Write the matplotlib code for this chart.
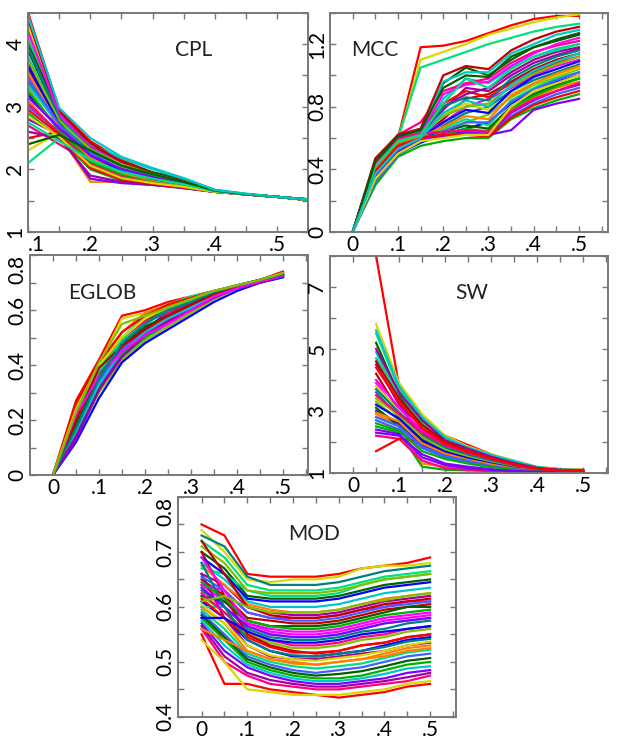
import matplotlib
matplotlib.use("Agg")
import matplotlib.pyplot as plt
import numpy as np

plt.rcParams['font.family'] = ['Lato', 'DejaVu Sans']

# x positions (threshold) for each panel
x_cpl = [0.10, 0.15, 0.20, 0.25, 0.30, 0.35, 0.40, 0.45, 0.50, 0.55]
x_full = [0.0, 0.05, 0.10, 0.15, 0.20, 0.25, 0.30, 0.35, 0.40, 0.45, 0.50]
x_sw = [0.05, 0.10, 0.15, 0.20, 0.25, 0.30, 0.35, 0.40, 0.45, 0.50]

cpl = [
    [4.5, 2.95, 2.45, 2.15, 1.95, 1.82, 1.66, 1.60, 1.56, 1.52],
    [4.3, 2.9, 2.4, 2.1, 1.92, 1.8, 1.66, 1.6, 1.56, 1.52],
    [4.1, 2.85, 2.35, 2.05, 1.88, 1.78, 1.65, 1.6, 1.56, 1.52],
    [3.9, 2.8, 2.3, 2.0, 1.85, 1.76, 1.65, 1.6, 1.56, 1.52],
    [3.8, 2.75, 2.28, 2.05, 1.9, 1.78, 1.65, 1.6, 1.56, 1.52],
    [3.7, 2.7, 2.25, 1.98, 1.84, 1.74, 1.65, 1.6, 1.56, 1.51],
    [3.6, 2.75, 2.2, 1.95, 1.82, 1.74, 1.65, 1.6, 1.56, 1.51],
    [3.5, 2.65, 2.15, 1.92, 1.8, 1.72, 1.65, 1.6, 1.56, 1.51],
    [3.4, 2.7, 2.3, 2.02, 1.88, 1.8, 1.66, 1.6, 1.56, 1.52],
    [3.3, 2.6, 2.1, 1.9, 1.78, 1.72, 1.64, 1.6, 1.56, 1.51],
    [3.2, 2.65, 2.2, 2.0, 1.86, 1.76, 1.65, 1.6, 1.56, 1.51],
    [3.1, 2.55, 1.8, 1.8, 1.76, 1.72, 1.64, 1.6, 1.56, 1.51],
    [3.0, 2.6, 2.05, 1.85, 1.77, 1.7, 1.64, 1.6, 1.56, 1.51],
    [2.9, 2.5, 2.0, 1.82, 1.76, 1.7, 1.64, 1.6, 1.56, 1.51],
    [2.8, 2.55, 1.85, 1.78, 1.75, 1.7, 1.64, 1.6, 1.56, 1.51],
    [2.7, 2.4, 2.1, 1.95, 1.84, 1.75, 1.65, 1.6, 1.56, 1.51],
    [2.5, 2.6, 2.2, 1.98, 1.85, 1.76, 1.65, 1.6, 1.56, 1.51],
    [2.3, 2.6, 2.25, 2.02, 1.9, 1.8, 1.66, 1.6, 1.56, 1.52],
    [2.1, 2.5, 2.15, 1.95, 1.86, 1.78, 1.65, 1.6, 1.56, 1.51],
    [4.0, 2.9, 2.38, 2.12, 1.95, 1.85, 1.67, 1.6, 1.56, 1.52],
    [3.35, 2.7, 2.4, 2.18, 2.0, 1.85, 1.67, 1.61, 1.56, 1.52],
    [2.6, 2.5, 1.9, 1.8, 1.75, 1.71, 1.64, 1.6, 1.56, 1.51],
    [4.4, 2.92, 2.42, 2.12, 1.93, 1.81, 1.66, 1.6, 1.56, 1.52],
    [4.2, 2.88, 2.36, 2.08, 1.9, 1.79, 1.66, 1.6, 1.56, 1.52],
    [3.95, 2.82, 2.33, 2.06, 1.89, 1.78, 1.65, 1.6, 1.56, 1.52],
    [3.75, 2.78, 2.32, 2.08, 1.92, 1.8, 1.66, 1.6, 1.56, 1.52],
    [3.65, 2.72, 2.22, 1.97, 1.83, 1.75, 1.65, 1.6, 1.56, 1.51],
    [3.55, 2.68, 2.18, 1.94, 1.81, 1.73, 1.65, 1.6, 1.56, 1.51],
    [3.45, 2.72, 2.26, 2.0, 1.86, 1.77, 1.65, 1.6, 1.56, 1.51],
    [3.25, 2.62, 2.12, 1.91, 1.79, 1.72, 1.64, 1.6, 1.56, 1.51],
    [3.15, 2.66, 2.22, 2.01, 1.87, 1.77, 1.65, 1.6, 1.56, 1.51],
    [3.05, 2.58, 2.08, 1.88, 1.78, 1.71, 1.64, 1.6, 1.56, 1.51],
    [2.95, 2.56, 2.02, 1.84, 1.77, 1.71, 1.64, 1.6, 1.56, 1.51],
    [2.85, 2.52, 2.06, 1.86, 1.78, 1.72, 1.64, 1.6, 1.56, 1.51],
    [2.75, 2.45, 2.15, 1.96, 1.85, 1.76, 1.65, 1.6, 1.56, 1.51],
    [2.4, 2.55, 2.3, 2.06, 1.92, 1.8, 1.66, 1.6, 1.56, 1.52],
    [4.45, 2.98, 2.5, 2.2, 2.02, 1.86, 1.67, 1.61, 1.56, 1.52],
]

mcc = [
    [0, 0.45, 0.6, 1.18, 1.19, 1.22, 1.27, 1.32, 1.36, 1.38, 1.38],
    [0, 0.42, 0.58, 1.1, 1.15, 1.2, 1.26, 1.3, 1.34, 1.37, 1.39],
    [0, 0.4, 0.6, 1.05, 1.1, 1.15, 1.2, 1.24, 1.28, 1.31, 1.33],
    [0, 0.44, 0.62, 0.65, 0.95, 1.05, 1.0, 1.1, 1.18, 1.22, 1.26],
    [0, 0.38, 0.55, 0.62, 0.85, 0.98, 0.95, 1.05, 1.12, 1.17, 1.2],
    [0, 0.4, 0.57, 0.63, 0.78, 0.92, 0.9, 1.0, 1.08, 1.13, 1.17],
    [0, 0.36, 0.52, 0.6, 0.72, 0.85, 0.88, 0.96, 1.04, 1.1, 1.14],
    [0, 0.42, 0.56, 0.62, 0.7, 0.8, 0.85, 0.92, 1.0, 1.06, 1.1],
    [0, 0.35, 0.5, 0.58, 0.68, 0.76, 0.8, 0.9, 0.97, 1.02, 1.07],
    [0, 0.39, 0.54, 0.6, 0.65, 0.7, 0.75, 0.86, 0.94, 0.99, 1.04],
    [0, 0.33, 0.5, 0.57, 0.62, 0.66, 0.7, 0.82, 0.9, 0.96, 1.0],
    [0, 0.37, 0.53, 0.6, 0.63, 0.64, 0.65, 0.78, 0.86, 0.92, 0.96],
    [0, 0.41, 0.56, 0.6, 0.61, 0.63, 0.62, 0.74, 0.82, 0.88, 0.92],
    [0, 0.3, 0.48, 0.55, 0.58, 0.6, 0.6, 0.72, 0.79, 0.84, 0.88],
    [0, 0.46, 0.6, 0.62, 0.63, 0.64, 0.62, 0.65, 0.78, 0.82, 0.85],
    [0, 0.43, 0.62, 0.7, 0.9, 0.95, 0.98, 1.08, 1.15, 1.19, 1.22],
    [0, 0.38, 0.55, 0.64, 0.82, 0.9, 0.86, 0.95, 1.02, 1.08, 1.12],
    [0, 0.34, 0.52, 0.61, 0.75, 0.82, 0.78, 0.88, 0.95, 1.0, 1.05],
    [0, 0.4, 0.58, 0.62, 0.66, 0.72, 0.68, 0.84, 0.92, 0.98, 1.02],
    [0, 0.36, 0.51, 0.59, 0.64, 0.68, 0.66, 0.8, 0.88, 0.94, 0.98],
    [0, 0.44, 0.6, 0.64, 0.96, 1.02, 1.02, 1.14, 1.2, 1.26, 1.29],
    [0, 0.39, 0.56, 0.62, 0.8, 0.88, 0.92, 1.02, 1.1, 1.15, 1.18],
    [0, 0.47, 0.62, 0.66, 1.0, 1.06, 1.04, 1.16, 1.23, 1.28, 1.31],
    [0, 0.41, 0.59, 0.63, 0.88, 0.94, 0.96, 1.06, 1.14, 1.2, 1.24],
    [0, 0.37, 0.54, 0.61, 0.8, 0.86, 0.84, 0.98, 1.06, 1.12, 1.16],
    [0, 0.43, 0.57, 0.62, 0.74, 0.8, 0.82, 0.93, 1.01, 1.07, 1.12],
    [0, 0.35, 0.52, 0.6, 0.7, 0.78, 0.76, 0.9, 0.99, 1.04, 1.09],
    [0, 0.4, 0.55, 0.61, 0.67, 0.74, 0.72, 0.87, 0.95, 1.01, 1.06],
    [0, 0.32, 0.49, 0.58, 0.64, 0.7, 0.7, 0.83, 0.91, 0.97, 1.02],
    [0, 0.38, 0.53, 0.6, 0.62, 0.66, 0.64, 0.79, 0.87, 0.93, 0.98],
    [0, 0.36, 0.52, 0.59, 0.61, 0.63, 0.63, 0.76, 0.84, 0.9, 0.94],
    [0, 0.44, 0.6, 0.63, 0.64, 0.65, 0.64, 0.77, 0.85, 0.9, 0.95],
    [0, 0.39, 0.55, 0.6, 0.62, 0.62, 0.61, 0.73, 0.81, 0.86, 0.9],
    [0, 0.34, 0.5, 0.58, 0.6, 0.62, 0.62, 0.8, 0.9, 0.95, 1.0],
    [0, 0.42, 0.58, 0.62, 0.82, 0.98, 0.92, 1.04, 1.12, 1.16, 1.2],
    [0, 0.45, 0.61, 0.65, 0.92, 1.0, 0.99, 1.12, 1.18, 1.23, 1.27],
    [0, 0.37, 0.53, 0.6, 0.76, 0.84, 0.8, 0.94, 1.03, 1.09, 1.14],
]

eglob = [
    [0, 0.27, 0.42, 0.58, 0.6, 0.63, 0.65, 0.67, 0.69, 0.71, 0.74],
    [0, 0.25, 0.4, 0.57, 0.59, 0.62, 0.65, 0.67, 0.69, 0.71, 0.74],
    [0, 0.23, 0.39, 0.5, 0.58, 0.62, 0.65, 0.67, 0.69, 0.71, 0.735],
    [0, 0.22, 0.38, 0.48, 0.56, 0.61, 0.64, 0.67, 0.69, 0.71, 0.735],
    [0, 0.2, 0.37, 0.47, 0.55, 0.6, 0.64, 0.67, 0.69, 0.71, 0.73],
    [0, 0.19, 0.36, 0.46, 0.53, 0.59, 0.63, 0.66, 0.69, 0.71, 0.73],
    [0, 0.18, 0.35, 0.45, 0.52, 0.57, 0.62, 0.66, 0.69, 0.71, 0.73],
    [0, 0.17, 0.33, 0.44, 0.51, 0.56, 0.61, 0.66, 0.69, 0.71, 0.73],
    [0, 0.15, 0.32, 0.43, 0.5, 0.55, 0.6, 0.65, 0.68, 0.705, 0.725],
    [0, 0.14, 0.3, 0.42, 0.49, 0.54, 0.59, 0.64, 0.68, 0.7, 0.72],
    [0, 0.12, 0.28, 0.41, 0.48, 0.53, 0.58, 0.63, 0.67, 0.7, 0.72],
    [0, 0.21, 0.4, 0.52, 0.59, 0.62, 0.64, 0.67, 0.69, 0.71, 0.735],
    [0, 0.16, 0.34, 0.46, 0.54, 0.58, 0.63, 0.66, 0.69, 0.71, 0.73],
    [0, 0.24, 0.37, 0.44, 0.5, 0.56, 0.6, 0.65, 0.68, 0.705, 0.725],
    [0, 0.13, 0.31, 0.45, 0.52, 0.6, 0.63, 0.665, 0.69, 0.71, 0.73],
    [0, 0.19, 0.38, 0.49, 0.56, 0.59, 0.62, 0.66, 0.685, 0.71, 0.73],
    [0, 0.26, 0.41, 0.52, 0.58, 0.62, 0.645, 0.67, 0.69, 0.71, 0.74],
    [0, 0.24, 0.4, 0.5, 0.57, 0.61, 0.64, 0.67, 0.69, 0.71, 0.735],
    [0, 0.21, 0.38, 0.49, 0.55, 0.6, 0.635, 0.665, 0.69, 0.71, 0.73],
    [0, 0.18, 0.36, 0.47, 0.54, 0.58, 0.62, 0.66, 0.685, 0.71, 0.73],
    [0, 0.16, 0.33, 0.45, 0.52, 0.57, 0.61, 0.65, 0.68, 0.705, 0.725],
    [0, 0.14, 0.31, 0.43, 0.51, 0.56, 0.6, 0.645, 0.68, 0.7, 0.725],
    [0, 0.2, 0.39, 0.47, 0.53, 0.58, 0.62, 0.66, 0.685, 0.71, 0.73],
    [0, 0.22, 0.36, 0.45, 0.51, 0.55, 0.6, 0.65, 0.68, 0.705, 0.725],
    [0, 0.17, 0.35, 0.48, 0.55, 0.6, 0.63, 0.665, 0.69, 0.71, 0.73],
    [0, 0.23, 0.41, 0.55, 0.58, 0.61, 0.64, 0.67, 0.69, 0.71, 0.735],
]

sw = [
    [8.0, 3.8, 2.7, 2.2, 1.9, 1.6, 1.35, 1.18, 1.12, 1.1],
    [5.8, 3.9, 2.9, 2.2, 1.85, 1.6, 1.4, 1.2, 1.12, 1.1],
    [5.5, 3.7, 2.8, 2.1, 1.8, 1.55, 1.35, 1.18, 1.1, 1.08],
    [5.2, 3.5, 2.6, 2.0, 1.75, 1.5, 1.3, 1.15, 1.1, 1.08],
    [4.9, 3.4, 2.5, 1.95, 1.7, 1.45, 1.28, 1.14, 1.09, 1.07],
    [4.5, 3.2, 2.4, 1.9, 1.65, 1.42, 1.25, 1.12, 1.08, 1.06],
    [4.2, 3.0, 2.3, 1.85, 1.6, 1.4, 1.22, 1.12, 1.08, 1.06],
    [3.9, 2.9, 2.2, 1.8, 1.55, 1.35, 1.2, 1.1, 1.07, 1.05],
    [3.6, 2.8, 2.1, 1.7, 1.5, 1.3, 1.18, 1.1, 1.07, 1.05],
    [3.3, 2.7, 2.0, 1.65, 1.45, 1.28, 1.15, 1.09, 1.06, 1.04],
    [3.0, 2.6, 1.9, 1.6, 1.4, 1.25, 1.13, 1.08, 1.06, 1.04],
    [2.9, 2.5, 1.3, 1.2, 1.15, 1.1, 1.06, 1.04, 1.03, 1.02],
    [2.7, 2.4, 1.8, 1.5, 1.35, 1.2, 1.1, 1.06, 1.04, 1.03],
    [2.5, 2.3, 1.2, 1.1, 1.08, 1.06, 1.04, 1.03, 1.02, 1.01],
    [2.3, 2.2, 1.6, 1.3, 1.2, 1.12, 1.07, 1.04, 1.03, 1.02],
    [2.2, 2.1, 1.4, 1.15, 1.1, 1.07, 1.05, 1.03, 1.02, 1.01],
    [1.7, 2.1, 2.0, 1.7, 1.5, 1.35, 1.2, 1.1, 1.06, 1.04],
    [3.8, 3.0, 2.5, 2.0, 1.7, 1.5, 1.3, 1.16, 1.1, 1.07],
    [4.7, 3.6, 2.6, 2.05, 1.72, 1.52, 1.32, 1.15, 1.1, 1.08],
    [3.1, 2.5, 2.15, 1.75, 1.55, 1.38, 1.2, 1.1, 1.07, 1.05],
    [5.6, 3.8, 2.8, 2.15, 1.82, 1.58, 1.38, 1.19, 1.11, 1.09],
    [5.0, 3.6, 2.7, 2.05, 1.78, 1.52, 1.32, 1.16, 1.1, 1.08],
    [4.6, 3.4, 2.55, 2.0, 1.7, 1.47, 1.28, 1.14, 1.09, 1.07],
    [4.0, 3.1, 2.35, 1.88, 1.62, 1.42, 1.24, 1.12, 1.08, 1.06],
    [3.7, 2.95, 2.25, 1.82, 1.58, 1.38, 1.21, 1.11, 1.07, 1.05],
    [3.4, 2.85, 2.15, 1.75, 1.52, 1.33, 1.18, 1.1, 1.07, 1.05],
    [3.2, 2.75, 2.05, 1.68, 1.47, 1.3, 1.16, 1.09, 1.06, 1.04],
    [2.95, 2.65, 1.95, 1.62, 1.42, 1.27, 1.14, 1.08, 1.06, 1.04],
    [2.8, 2.5, 1.85, 1.55, 1.38, 1.22, 1.12, 1.07, 1.05, 1.03],
    [2.6, 2.35, 1.7, 1.45, 1.3, 1.18, 1.1, 1.06, 1.04, 1.03],
    [2.4, 2.25, 1.5, 1.25, 1.15, 1.1, 1.06, 1.04, 1.03, 1.02],
    [3.5, 2.9, 2.3, 1.9, 1.65, 1.45, 1.27, 1.13, 1.08, 1.06],
    [4.4, 3.3, 2.45, 1.95, 1.68, 1.46, 1.26, 1.13, 1.08, 1.06],
]

mod = [
    [0.75, 0.73, 0.66, 0.655, 0.655, 0.655, 0.66, 0.67, 0.675, 0.68, 0.69],
    [0.74, 0.7, 0.65, 0.645, 0.65, 0.65, 0.655, 0.67, 0.675, 0.675, 0.68],
    [0.72, 0.69, 0.64, 0.63, 0.63, 0.63, 0.635, 0.645, 0.655, 0.66, 0.665],
    [0.7, 0.67, 0.62, 0.615, 0.615, 0.615, 0.62, 0.63, 0.64, 0.645, 0.65],
    [0.68, 0.65, 0.61, 0.6, 0.6, 0.6, 0.605, 0.615, 0.625, 0.63, 0.635],
    [0.66, 0.64, 0.6, 0.59, 0.585, 0.585, 0.59, 0.6, 0.61, 0.615, 0.62],
    [0.65, 0.62, 0.58, 0.575, 0.57, 0.57, 0.575, 0.585, 0.595, 0.6, 0.605],
    [0.64, 0.61, 0.57, 0.56, 0.555, 0.555, 0.56, 0.57, 0.58, 0.585, 0.59],
    [0.63, 0.6, 0.56, 0.545, 0.54, 0.54, 0.545, 0.555, 0.56, 0.57, 0.575],
    [0.62, 0.59, 0.55, 0.535, 0.525, 0.525, 0.53, 0.54, 0.545, 0.555, 0.56],
    [0.61, 0.58, 0.54, 0.52, 0.51, 0.51, 0.515, 0.52, 0.53, 0.54, 0.545],
    [0.6, 0.57, 0.52, 0.505, 0.5, 0.495, 0.5, 0.505, 0.515, 0.525, 0.53],
    [0.59, 0.55, 0.51, 0.495, 0.485, 0.48, 0.485, 0.49, 0.5, 0.51, 0.515],
    [0.58, 0.54, 0.5, 0.485, 0.475, 0.47, 0.47, 0.475, 0.485, 0.495, 0.5],
    [0.57, 0.52, 0.49, 0.475, 0.465, 0.46, 0.46, 0.465, 0.47, 0.48, 0.485],
    [0.56, 0.5, 0.475, 0.46, 0.455, 0.45, 0.45, 0.455, 0.46, 0.465, 0.475],
    [0.55, 0.46, 0.46, 0.45, 0.445, 0.44, 0.435, 0.44, 0.445, 0.455, 0.46],
    [0.54, 0.5, 0.45, 0.445, 0.44, 0.44, 0.44, 0.445, 0.45, 0.46, 0.465],
    [0.67, 0.66, 0.63, 0.62, 0.62, 0.62, 0.625, 0.64, 0.65, 0.655, 0.66],
    [0.62, 0.61, 0.575, 0.565, 0.565, 0.565, 0.57, 0.58, 0.59, 0.6, 0.6],
    [0.6, 0.6, 0.565, 0.55, 0.545, 0.545, 0.55, 0.56, 0.57, 0.575, 0.58],
    [0.66, 0.58, 0.53, 0.51, 0.505, 0.505, 0.51, 0.515, 0.52, 0.53, 0.535],
    [0.7, 0.62, 0.55, 0.53, 0.52, 0.515, 0.52, 0.53, 0.535, 0.545, 0.55],
    [0.64, 0.63, 0.59, 0.58, 0.58, 0.58, 0.585, 0.595, 0.6, 0.61, 0.61],
    [0.73, 0.71, 0.655, 0.64, 0.64, 0.64, 0.645, 0.655, 0.665, 0.67, 0.675],
    [0.71, 0.68, 0.63, 0.625, 0.625, 0.625, 0.63, 0.64, 0.65, 0.655, 0.66],
    [0.69, 0.66, 0.615, 0.61, 0.61, 0.61, 0.615, 0.625, 0.635, 0.64, 0.645],
    [0.675, 0.64, 0.605, 0.595, 0.59, 0.59, 0.595, 0.605, 0.615, 0.62, 0.625],
    [0.655, 0.63, 0.59, 0.58, 0.575, 0.575, 0.58, 0.59, 0.6, 0.605, 0.61],
    [0.645, 0.615, 0.575, 0.565, 0.56, 0.56, 0.565, 0.575, 0.585, 0.59, 0.595],
    [0.635, 0.6, 0.565, 0.55, 0.545, 0.545, 0.55, 0.56, 0.57, 0.575, 0.58],
    [0.625, 0.59, 0.555, 0.54, 0.53, 0.53, 0.535, 0.545, 0.55, 0.56, 0.565],
    [0.615, 0.58, 0.545, 0.527, 0.517, 0.517, 0.52, 0.53, 0.535, 0.545, 0.55],
    [0.605, 0.57, 0.53, 0.512, 0.505, 0.502, 0.507, 0.512, 0.52, 0.53, 0.537],
    [0.595, 0.56, 0.515, 0.5, 0.492, 0.488, 0.492, 0.497, 0.507, 0.517, 0.522],
    [0.585, 0.545, 0.505, 0.49, 0.48, 0.475, 0.478, 0.483, 0.492, 0.502, 0.507],
    [0.575, 0.53, 0.495, 0.48, 0.47, 0.465, 0.465, 0.47, 0.478, 0.488, 0.492],
    [0.565, 0.51, 0.48, 0.467, 0.46, 0.455, 0.455, 0.46, 0.465, 0.472, 0.48],
    [0.72, 0.66, 0.6, 0.585, 0.58, 0.58, 0.585, 0.595, 0.605, 0.61, 0.615],
    [0.69, 0.63, 0.57, 0.555, 0.55, 0.55, 0.555, 0.565, 0.575, 0.58, 0.585],
    [0.68, 0.6, 0.54, 0.52, 0.512, 0.51, 0.515, 0.52, 0.527, 0.537, 0.542],
    [0.61, 0.62, 0.6, 0.59, 0.59, 0.59, 0.595, 0.605, 0.612, 0.62, 0.625],
    [0.58, 0.58, 0.555, 0.54, 0.535, 0.535, 0.54, 0.55, 0.555, 0.56, 0.565],
    [0.56, 0.54, 0.52, 0.505, 0.497, 0.495, 0.5, 0.505, 0.51, 0.52, 0.525],
]

line_colors = ['#ff0000', '#00b000', '#0000ff', '#ff00ff', '#00c8c8', '#d8d800',
               '#8000ff', '#ff8000', '#008080', '#a000a0', '#00e080', '#ff0080',
               '#4060ff', '#80c000', '#c00000', '#006000']

# tick labels as in the original figure
xt_cpl = [0.1, 0.2, 0.3, 0.4, 0.5]
xl_cpl = ['.1', '.2', '.3', '.4', '.5']
xt_std = [0, 0.1, 0.2, 0.3, 0.4, 0.5]
xl_std = ['0', '.1', '.2', '.3', '.4', '.5']

panels = [
    # name, rect, x, curves, xlim, ylim, xticks, xlabels, yticks, ylabels, yminor, title pos
    ('CPL', [0.045, 0.692, 0.449, 0.291], x_cpl, cpl, (0.1, 0.55), (1, 4.5),
     xt_cpl, xl_cpl, [1, 2, 3, 4], ['1', '2', '3', '4'], 0.5, (0.59, 0.83)),
    ('MCC', [0.529, 0.692, 0.446, 0.291], x_full, mcc, (-0.05, 0.565), (0, 1.4),
     xt_std, xl_std, [0, 0.4, 0.8, 1.2], ['0', '0.4', '0.8', '1.2'], 0.2, (0.16, 0.83)),
    ('EGLOB', [0.048, 0.369, 0.446, 0.292], x_full, eglob, (-0.05, 0.555), (0, 0.8),
     xt_std, xl_std, [0, 0.2, 0.4, 0.6, 0.8], ['0', '0.2', '0.4', '0.6', '0.8'], 0.1, (0.26, 0.83)),
    ('SW', [0.529, 0.372, 0.446, 0.288], x_sw, sw, (-0.05, 0.555), (1, 8),
     xt_std, xl_std, [1, 3, 5, 7], ['1', '3', '5', '7'], 1, (0.51, 0.83)),
    ('MOD', [0.285, 0.048, 0.446, 0.292], x_full, mod, (-0.052, 0.557), (0.4, 0.8),
     xt_std, xl_std, [0.4, 0.5, 0.6, 0.7, 0.8], ['0.4', '0.5', '0.6', '0.7', '0.8'], 0.05, (0.49, 0.83)),
]

fig = plt.figure(figsize=(6.24, 7.53), dpi=100)

for name, rect, xs, curves, xlim, ylim, xt, xl, yt, yl, ym, tpos in panels:
    ax = fig.add_axes(rect)
    for i, c in enumerate(curves):
        ax.plot(xs, c, color=line_colors[(i * 5) % len(line_colors)], lw=1.6)
    ax.set_xticks(xt)
    xlabs = ax.set_xticklabels(xl)
    # first label sitting on the left corner is pushed inside
    if xt[0] == xlim[0]:
        xlabs[0].set_ha('left')
    ax.set_xticks(np.arange(0, 0.56, 0.05), minor=True)
    ax.set_yticks(yt)
    labs = ax.set_yticklabels(yl, rotation=90, va='center')
    # top label sits just under the corner, like the original
    if yt[-1] == ylim[1]:
        labs[-1].set_va('top')
    ax.set_yticks(np.arange(ylim[0], ylim[1] + 1e-9, ym), minor=True)
    # limits after ticks, so the ticks do not widen the view
    ax.set_xlim(*xlim)
    ax.set_ylim(*ylim)
    ax.tick_params(which='both', direction='in', top=True, right=True,
                   length=4, width=1, color='#777777', labelsize=15, pad=2)
    for s in ax.spines.values():
        s.set_color('#777777')
        s.set_linewidth(1.4)
    ax.text(tpos[0], tpos[1], name, transform=ax.transAxes, ha='center',
            va='center', fontsize=15, color='#222222')

fig.savefig('out.png', dpi=100)
